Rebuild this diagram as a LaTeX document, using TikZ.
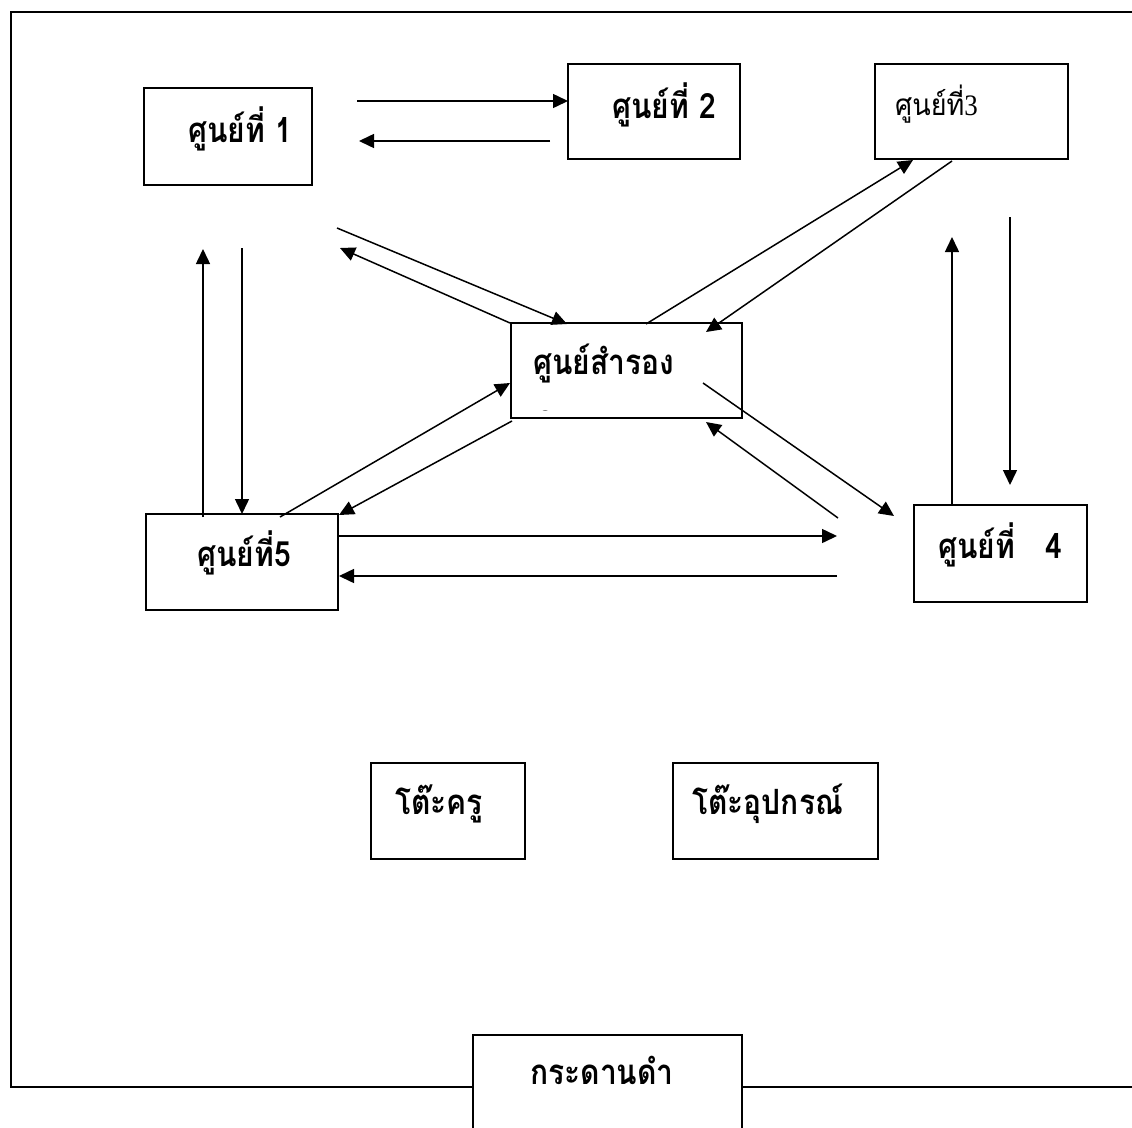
\documentclass[tikz,border=0pt]{standalone}
\usepackage{fontspec}
\usepackage{graphicx}
\usetikzlibrary{arrows.meta}
\newfontfamily\thaifont[Script=Thai]{Loma}
\newfontfamily\serifnum{Liberation Serif}
\newcommand{\tallthai}[1]{\scalebox{1}[1.16]{#1}}
\begin{document}
\begin{tikzpicture}[x=1pt,y=-1pt,
  box/.style={draw, line width=2pt, inner sep=0pt, rectangle, fill=white},
  lbl/.style={anchor=base west, inner sep=0pt, font=\thaifont\bfseries\fontsize{30}{34}\selectfont},
  lblthin/.style={anchor=base west, inner sep=0pt, font=\thaifont\fontsize{27}{31}\selectfont},
  conn/.style={line width=1.5pt, -{Triangle[length=15pt,width=14pt]}},
  frameline/.style={line width=2.5pt}]
\useasboundingbox (0,0) rectangle (1132,1127);
\clip (0,0) rectangle (1132,1127);
% outer frame (open on the right)
\draw[frameline] (1132,12) -- (11,12) -- (11,1087) -- (1132,1087);
% boxes
\node[box, minimum width=168pt, minimum height=97pt] (b1) at (228,136.5) {};
\node[box, minimum width=172pt, minimum height=95pt] (b2) at (654,111.5) {};
\node[box, minimum width=193pt, minimum height=95pt] (b3) at (971.5,111.5) {};
\node[box, minimum width=231pt, minimum height=95pt] (bc) at (626.5,370.5) {};
\node[box, minimum width=192pt, minimum height=96pt] (b5) at (242,562) {};
\node[box, minimum width=173pt, minimum height=97pt] (b4) at (1000.5,553.5) {};
\node[box, minimum width=154pt, minimum height=96pt] (t1) at (448,811) {};
\node[box, minimum width=205pt, minimum height=96pt] (t2) at (775.5,811) {};
\node[box, minimum width=269pt, minimum height=130pt] (bb) at (607.5,1100) {};
% labels
\node[lbl] (b1t) at (188,142) {\tallthai{ศูนย์ที่ 1}};
\node[lbl] (b2t) at (612,118) {\tallthai{ศูนย์ที่ 2}};
\node[lblthin] (b3t) at (895,115) {\scalebox{1}[1.1]{ศูนย์ที่{\serifnum 3}}};
\node[lbl] (bct) at (533,374) {\tallthai{ศูนย์สำรอง}};
\node[lbl] (b5t) at (197,566) {\tallthai{ศูนย์ที่5}};
\node[lbl] (b4t) at (938,558) {\tallthai{ศูนย์ที่~~~4}};
\node[lbl] (t1t) at (395,814) {\tallthai{โต๊ะครู}};
\node[lbl] (t2t) at (692,814) {\tallthai{โต๊ะอุปกรณ์}};
\node[lbl] (bbt) at (530,1084) {\tallthai{กระดานดำ}};
\begin{scope}
  \clip (512,403) rectangle (741,410);
  \node[lbl] (bcx) at (536,430) {\tallthai{ก}};
\end{scope}
% connector end points
\coordinate (a1s) at (357,101);  \coordinate (a1e) at (568,101);
\coordinate (a2s) at (550,141);  \coordinate (a2e) at (359,141);
\coordinate (a3s) at (337,228);  \coordinate (a3e) at (567,324);
\coordinate (a4s) at (510,323);  \coordinate (a4e) at (340,248);
\coordinate (a5s) at (242,248);  \coordinate (a5e) at (242,514);
\coordinate (a6s) at (203,517);  \coordinate (a6e) at (203,249);
\coordinate (a7s) at (280,517);  \coordinate (a7e) at (510,383);
\coordinate (a8s) at (512,421);  \coordinate (a8e) at (339,515);
\coordinate (a9s) at (646,324);  \coordinate (a9e) at (913,160);
\coordinate (a10s) at (952,161); \coordinate (a10e) at (706,332);
\coordinate (a11s) at (703,383); \coordinate (a11e) at (894,516);
\coordinate (a12s) at (838,518); \coordinate (a12e) at (706,422);
\coordinate (a13s) at (952,505); \coordinate (a13e) at (952,237);
\coordinate (a14s) at (1010,217);\coordinate (a14e) at (1010,485);
\coordinate (a15s) at (338,536); \coordinate (a15e) at (837,536);
\coordinate (a16s) at (837,576); \coordinate (a16e) at (339,576);
% connectors
\draw[conn] (a1s) -- (a1e);
\draw[conn] (a2s) -- (a2e);
\draw[conn] (a3s) -- (a3e);
\draw[conn] (a4s) -- (a4e);
\draw[conn] (a5s) -- (a5e);
\draw[conn] (a6s) -- (a6e);
\draw[conn] (a7s) -- (a7e);
\draw[conn] (a8s) -- (a8e);
\draw[conn] (a9s) -- (a9e);
\draw[conn] (a10s) -- (a10e);
\draw[conn] (a11s) -- (a11e);
\draw[conn] (a12s) -- (a12e);
\draw[conn] (a13s) -- (a13e);
\draw[conn] (a14s) -- (a14e);
\draw[conn] (a15s) -- (a15e);
\draw[conn] (a16s) -- (a16e);
\end{tikzpicture}
\end{document}
